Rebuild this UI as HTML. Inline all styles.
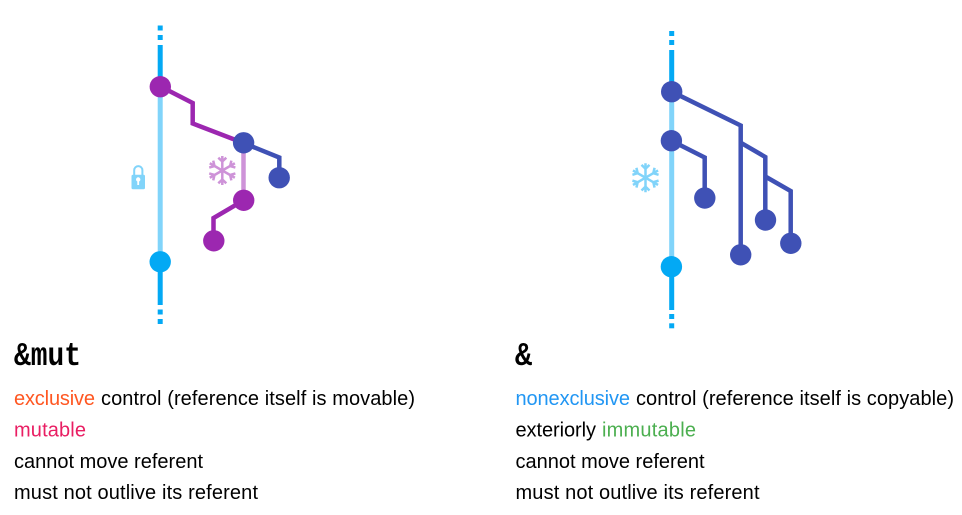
<!DOCTYPE html>
<html lang="en">
<head>
<meta charset="utf-8">
<title>&amp;mut and &amp; references</title>
<style>
html,body{margin:0;padding:0;background:#fff;width:962px;height:515px;overflow:hidden}
svg{display:block}
text{font-family:"Liberation Sans",sans-serif;font-size:20px;fill:#000}
.h{font-family:"Liberation Mono",monospace;font-size:33px;font-weight:bold}
.stem{fill:none;stroke-width:4.5;stroke-linejoin:miter}
</style>
</head>
<body>
<svg xmlns="http://www.w3.org/2000/svg" width="962" height="515" viewBox="0 0 962 515">
<defs>
<g id="arm" fill="none" stroke-width="2.5">
<path d="M0 0V-14.5M0 -9L-4 -12.8M0 -9L4 -12.8"/>
</g>
</defs>

<g>
<g>
<rect x="157.7" y="25.5" width="5" height="5" fill="#03A9F4"/>
<rect x="157.7" y="35" width="5" height="5" fill="#03A9F4"/>
<rect x="157.7" y="45" width="5" height="42" fill="#03A9F4"/>
<rect x="157.7" y="87" width="5" height="175" fill="#81D4FA"/>
<rect x="157.7" y="262" width="5" height="43" fill="#03A9F4"/>
<rect x="157.7" y="309.5" width="5" height="5" fill="#03A9F4"/>
<rect x="157.7" y="319" width="5" height="5" fill="#03A9F4"/>
</g>
<path d="M243.5 143V200" class="stem" stroke="#CE93D8"/>
<path d="M160.5 86.5L192.7 103V123.5L243.5 143" class="stem" stroke="#9C27B0"/>
<path d="M243.5 143L279.3 157.5V177.7" class="stem" stroke="#3F51B5"/>
<path d="M243.7 200.3L213.5 218V240.7" class="stem" stroke="#9C27B0"/>
<circle cx="160.3" cy="86.7" r="10.7" fill="#9C27B0"/>
<circle cx="160.2" cy="261.8" r="10.7" fill="#03A9F4"/>
<circle cx="243.6" cy="142.8" r="10.7" fill="#3F51B5"/>
<circle cx="279.2" cy="177.7" r="10.7" fill="#3F51B5"/>
<circle cx="243.7" cy="200.3" r="10.7" fill="#9C27B0"/>
<circle cx="213.8" cy="240.8" r="10.7" fill="#9C27B0"/>
<g>
<path d="M134.2 175V170.2a4.1 4.1 0 0 1 8.2 0V175" fill="none" stroke="#81D4FA" stroke-width="2"/>
<rect x="131.5" y="174.8" width="13.5" height="14.5" rx="1.5" fill="#81D4FA"/>
<circle cx="138.2" cy="179.5" r="2.2" fill="#fff"/>
<rect x="137.3" y="180" width="1.8" height="5" fill="#fff"/>
</g>
<g transform="translate(222.3 170.5)" stroke="#CE93D8">
<use href="#arm"/><use href="#arm" transform="rotate(60)"/><use href="#arm" transform="rotate(120)"/>
<use href="#arm" transform="rotate(180)"/><use href="#arm" transform="rotate(240)"/><use href="#arm" transform="rotate(300)"/>
</g>
</g>

<g>
<g>
<rect x="669.2" y="31" width="5" height="5" fill="#03A9F4"/>
<rect x="669.2" y="40" width="5" height="5" fill="#03A9F4"/>
<rect x="669.2" y="50" width="5" height="42" fill="#03A9F4"/>
<rect x="669.2" y="92" width="5" height="175" fill="#81D4FA"/>
<rect x="669.2" y="267" width="5" height="43" fill="#03A9F4"/>
<rect x="669.2" y="314" width="5" height="5" fill="#03A9F4"/>
<rect x="669.2" y="323.3" width="5" height="5" fill="#03A9F4"/>
</g>
<g class="stem" stroke="#3F51B5">
<path d="M671.7 91.7L740.7 125.5V255"/>
<path d="M740.7 142.7L765.3 157V220"/>
<path d="M765.3 176.5L790.7 191V243.3"/>
<path d="M671.5 140.7L704.7 157.5V198"/>
</g>
<circle cx="671.7" cy="91.7" r="10.7" fill="#3F51B5"/>
<circle cx="671.4" cy="140.7" r="10.7" fill="#3F51B5"/>
<circle cx="671.4" cy="266.7" r="10.7" fill="#03A9F4"/>
<circle cx="704.8" cy="198" r="10.7" fill="#3F51B5"/>
<circle cx="740.7" cy="254.8" r="10.7" fill="#3F51B5"/>
<circle cx="765.5" cy="220" r="10.7" fill="#3F51B5"/>
<circle cx="790.8" cy="243.3" r="10.7" fill="#3F51B5"/>
<g transform="translate(645.5 177.7)" stroke="#81D4FA">
<use href="#arm"/><use href="#arm" transform="rotate(60)"/><use href="#arm" transform="rotate(120)"/>
<use href="#arm" transform="rotate(180)"/><use href="#arm" transform="rotate(240)"/><use href="#arm" transform="rotate(300)"/>
</g>
</g>

<g>
<text class="h" x="14" y="365" textLength="67" lengthAdjust="spacingAndGlyphs">&amp;mut</text>
<text x="14" y="405" textLength="81" style="fill:#FF5722">exclusive</text>
<text x="101" y="405" textLength="314">control (reference itself is movable)</text>
<text x="14" y="436.7" textLength="72" style="fill:#E91E63">mutable</text>
<text x="14" y="468" textLength="189">cannot move referent</text>
<text x="14" y="499" textLength="244">must not outlive its referent</text>
</g>

<g>
<text class="h" x="515" y="365" textLength="17" lengthAdjust="spacingAndGlyphs">&amp;</text>
<text x="515.5" y="405" textLength="114.5" style="fill:#2196F3">nonexclusive</text>
<text x="636" y="405" textLength="318">control (reference itself is copyable)</text>
<text x="515.5" y="436.7" textLength="80.5">exteriorly</text>
<text x="602" y="436.7" textLength="94" style="fill:#4CAF50">immutable</text>
<text x="515.5" y="468" textLength="189">cannot move referent</text>
<text x="515.5" y="499" textLength="244">must not outlive its referent</text>
</g>
</svg>
</body>
</html>
